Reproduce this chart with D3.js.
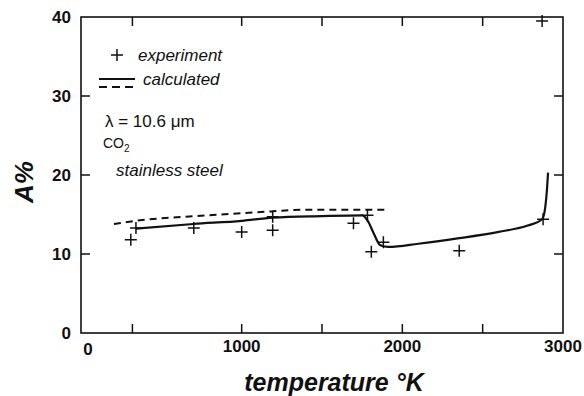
<!DOCTYPE html>
<html>
<head>
<meta charset="utf-8">
<script src="https://cdn.jsdelivr.net/npm/d3@7"></script>
<style>
  body { margin: 0; background: #fff; }
  svg { display: block; font-family: "Liberation Sans", Arial, sans-serif; }
</style>
</head>
<body>
<div id="chart"></div>
<script>
// measured points (crosses)
const expT = [310, 342, 702, 1000, 1193, 1193, 1696, 1783, 1807, 1882, 2354, 2876, 2870];
const expA = [11.8, 13.3, 13.3, 12.8, 13.0, 14.7, 13.9, 14.9, 10.3, 11.5, 10.4, 14.4, 39.5];

// calculated, solid curve
const calcT = [342, 700, 1000, 1193, 1500, 1752, 1789, 1820, 1863, 1913, 2100, 2354, 2600, 2780, 2870, 2890, 2900, 2907];
const calcA = [13.2, 13.8, 14.2, 14.6, 14.8, 14.9, 14.05, 12.7, 11.1, 10.9, 11.3, 12.0, 12.8, 13.6, 14.4, 16.0, 18.1, 20.3];

// calculated, dashed curve
const dashT = [205, 342, 800, 1193, 1366, 1907];
const dashA = [13.8, 14.2, 14.9, 15.4, 15.6, 15.6];

const xTicks = [320, 1000, 1500, 2000, 2500];
const xLabels = [0, 1000, 2000, 3000];
const yTicks = [10, 20, 30];
const yLabels = [0, 10, 20, 30, 40];

const W = 584, H = 396;

const svg = d3.select("#chart").append("svg")
    .attr("width", W)
    .attr("height", H);

const x = d3.scaleLinear().domain([0, 3000]).range([81, 563]);
const y = d3.scaleLinear().domain([0, 40]).range([333, 17]);

const ink = "#111";

// frame
svg.append("rect")
    .attr("x", x(0)).attr("y", y(40))
    .attr("width", x(3000) - x(0)).attr("height", y(0) - y(40))
    .attr("fill", "none").attr("stroke", ink).attr("stroke-width", 1.6);

// inward ticks on all four sides
const tl = 9;
svg.append("g").selectAll("line").data(xTicks).join("line")
    .attr("x1", d => x(d)).attr("x2", d => x(d))
    .attr("y1", y(0)).attr("y2", y(0) - tl)
    .attr("stroke", ink).attr("stroke-width", 1.5);
svg.append("g").selectAll("line").data(xTicks).join("line")
    .attr("x1", d => x(d)).attr("x2", d => x(d))
    .attr("y1", y(40)).attr("y2", y(40) + tl)
    .attr("stroke", ink).attr("stroke-width", 1.5);
svg.append("g").selectAll("line").data(yTicks).join("line")
    .attr("x1", x(0)).attr("x2", x(0) + tl)
    .attr("y1", d => y(d)).attr("y2", d => y(d))
    .attr("stroke", ink).attr("stroke-width", 1.5);
svg.append("g").selectAll("line").data(yTicks).join("line")
    .attr("x1", x(3000)).attr("x2", x(3000) - tl)
    .attr("y1", d => y(d)).attr("y2", d => y(d))
    .attr("stroke", ink).attr("stroke-width", 1.5);

// tick labels
svg.append("g").selectAll("text").data(yLabels).join("text")
    .attr("x", 71)
    .attr("y", d => y(d) + 6)
    .attr("text-anchor", "end")
    .attr("font-size", 17).attr("font-weight", "bold").attr("fill", ink)
    .text(d => d);

svg.append("g").selectAll("text").data(xLabels).join("text")
    .attr("x", d => d === 0 ? x(d) + 7 : x(d))
    .attr("y", d => d === 0 ? 355 : 352)
    .attr("text-anchor", "middle")
    .attr("font-size", 17).attr("font-weight", "bold").attr("fill", ink)
    .text(d => d);

// axis titles
svg.append("text")
    .attr("transform", "translate(33,182) rotate(-90)")
    .attr("text-anchor", "middle")
    .attr("font-size", 26).attr("font-weight", "bold").attr("font-style", "italic")
    .attr("fill", ink)
    .text("A%");

svg.append("text")
    .attr("x", 334).attr("y", 391)
    .attr("text-anchor", "middle")
    .attr("font-size", 25).attr("font-weight", "bold").attr("font-style", "italic")
    .attr("fill", ink)
    .text("temperature °K");

// curves
const solidData = calcT.map((t, i) => [t, calcA[i]]);
const dashData = dashT.map((t, i) => [t, dashA[i]]);
const line = d3.line().x(d => x(d[0])).y(d => y(d[1])).curve(d3.curveMonotoneX);

svg.append("path")
    .datum(dashData)
    .attr("d", line)
    .attr("fill", "none").attr("stroke", ink)
    .attr("stroke-width", 2).attr("stroke-dasharray", "7,5");

svg.append("path")
    .datum(solidData)
    .attr("d", line)
    .attr("fill", "none").attr("stroke", ink)
    .attr("stroke-width", 2.2);

// crosses
const cs = 6;
const crossPath = (cx, cy) => `M${cx - cs},${cy}H${cx + cs}M${cx},${cy - cs}V${cy + cs}`;
svg.append("g").selectAll("path").data(expT.map((t, i) => [t, expA[i]])).join("path")
    .attr("d", d => crossPath(x(d[0]), y(d[1])))
    .attr("stroke", ink).attr("stroke-width", 1.5).attr("fill", "none");

// legend
svg.append("path")
    .attr("d", crossPath(117, 55))
    .attr("stroke", ink).attr("stroke-width", 1.5);
svg.append("text")
    .attr("x", 138).attr("y", 61)
    .attr("font-size", 17).attr("font-style", "italic").attr("fill", ink)
    .text("experiment");

svg.append("line")
    .attr("x1", 99).attr("x2", 135).attr("y1", 79).attr("y2", 79)
    .attr("stroke", ink).attr("stroke-width", 2);
svg.append("line")
    .attr("x1", 99).attr("x2", 135).attr("y1", 87).attr("y2", 87)
    .attr("stroke", ink).attr("stroke-width", 2).attr("stroke-dasharray", "8,5");
svg.append("text")
    .attr("x", 143).attr("y", 85)
    .attr("font-size", 17).attr("font-style", "italic").attr("fill", ink)
    .text("calculated");

svg.append("text")
    .attr("x", 105).attr("y", 127)
    .attr("font-size", 17).attr("fill", ink)
    .text("λ = 10.6 μm");

const co2 = svg.append("text")
    .attr("x", 103).attr("y", 148)
    .attr("font-size", 14).attr("fill", ink);
co2.append("tspan").text("CO");
co2.append("tspan").attr("font-size", 10).attr("dy", 4).text("2");

svg.append("text")
    .attr("x", 116).attr("y", 176)
    .attr("font-size", 17).attr("font-style", "italic").attr("fill", ink)
    .text("stainless steel");
</script>
</body>
</html>
